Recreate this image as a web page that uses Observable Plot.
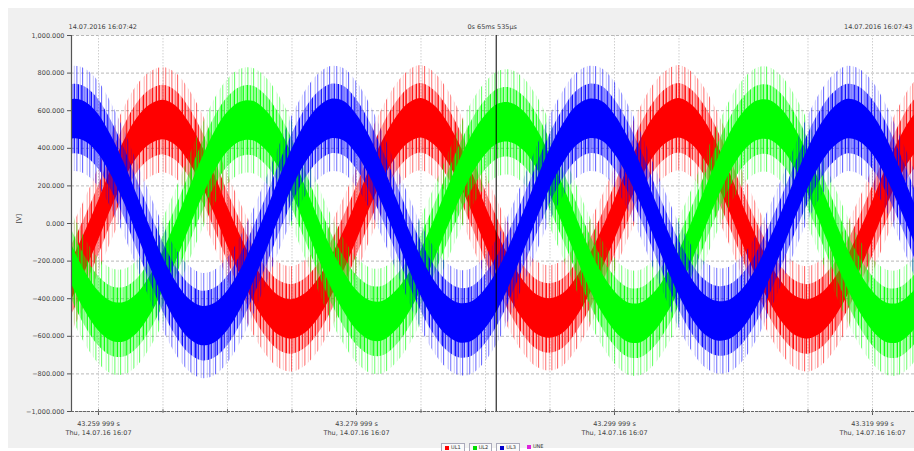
<!DOCTYPE html>
<html>
<head>
<meta charset="utf-8">
<script src="https://cdn.jsdelivr.net/npm/d3@7"></script>
<script src="https://cdn.jsdelivr.net/npm/@observablehq/plot@0.6"></script>
<style>
  body { margin: 0; background: #fff; font-family: "DejaVu Sans", sans-serif; }
  #wrap { position: relative; width: 914px; height: 451px; overflow: hidden; }
  #panel { position: absolute; left: 8px; top: 8px; width: 906px; height: 440px; background: #f0f0f0; }
  #chart { position: absolute; left: 0; top: 0; }
  #legend { position: absolute; top: 443px; left: 441px; display: flex; gap: 4px; font-size: 5px; color: #333; line-height: 7px; }
  #legend .item { display: flex; align-items: center; gap: 2px; padding: 0 3px; height: 7px; }
  #legend .box { border: 1px solid #aab; background: #fafafa; }
  #legend i { display: inline-block; width: 4px; height: 4px; }
</style>
</head>
<body>
<div id="wrap">
  <div id="panel"></div>
  <div id="chart"></div>
  <div id="legend"></div>
</div>
<script>
// ---- data ----
const sampleStart = 43257;   // ms (43.257 s), first sample
const sampleStepMs = 1;      // one reading per millisecond

const ul1Values = [-405,
  -290,-145,15,185,335,455,525,550,520,435,310,155,-15,-170,-310,-420,-490,-510,-480,-405,
  -290,-150,10,180,330,450,530,560,525,440,315,160,-10,-170,-305,-415,-485,-505,-480,-400,
  -285,-145,15,185,335,455,530,560,525,440,310,155,-15,-175,-310,-420,-490,-510,-480,-405,
  -290,-150,10,180,330,450,525];
const ul2Values = [-70,
  -230,-365,-465,-520,-525,-480,-385,-255,-100,70,235,380,485,540,545,495,400,265,100,-70,
  -230,-360,-460,-515,-520,-470,-380,-250,-95,70,230,370,470,530,535,490,395,260,100,-65,
  -230,-365,-465,-525,-530,-480,-385,-255,-100,70,235,380,485,545,550,500,400,265,100,-70,
  -230,-365,-465,-525,-530,-480,-385];
const ul3Values = [510,
  555,540,475,360,215,45,-125,-285,-415,-505,-545,-530,-465,-355,-210,-45,130,290,420,510,
  555,545,475,360,210,45,-125,-280,-405,-490,-530,-520,-455,-350,-205,-40,130,290,420,515,
  555,545,475,360,215,45,-120,-275,-400,-485,-520,-510,-450,-345,-200,-40,130,290,420,510,
  555,540,475,360,210,45,-125];

// noise spread around each trace (V): solid core, dense spikes, sparse spikes
const noiseCore = 105;
const noiseDense = 185;
const noiseSparse = 280;

const seriesNames = ["UL1", "UL2", "UL3"];
const seriesColors = ["#ff0000", "#00ff00", "#0000ff"];
const legendNames = ["UL1", "UL2", "UL3", "UNE"];
const legendColors = ["#ff0000", "#00dd00", "#0000cc", "#dd22dd"];

const yTicks = [-1000,-800,-600,-400,-200,0,200,400,600,800,1000];
const xMajorTicks = [43259.999, 43279.999, 43299.999, 43319.999];
const xMajorLabels = ["43.259 999 s", "43.279 999 s", "43.299 999 s", "43.319 999 s"];
const xMajorDates = ["Thu, 14.07.16 16:07", "Thu, 14.07.16 16:07", "Thu, 14.07.16 16:07", "Thu, 14.07.16 16:07"];
const xGridTicks = [43259.999,43264.999,43269.999,43274.999,43279.999,43284.999,43289.999,43294.999,43299.999,43304.999,43309.999,43314.999,43319.999];
const xDomain = [43257.906, 43323.256];
const cursorTime = 43290.83;
const cursorLabel = "0s 65ms 535µs";
const startLabel = "14.07.2016 16:07:42";
const endLabel = "14.07.2016 16:07:43";
const yUnit = "[V]";

// ---- build ----
const tables = [ul1Values, ul2Values, ul3Values].map(vals =>
  vals.map((v, i) => ({t: sampleStart + i * sampleStepMs, v})));

const ink = "#444";
const marks = [
  Plot.frame({fill: "#fff", stroke: null}),
  Plot.gridY(yTicks, {stroke: "#b8b8b8", strokeOpacity: 1, strokeDasharray: "3,2"}),
  Plot.gridX(xGridTicks, {stroke: "#cfcfcf", strokeOpacity: 1, strokeDasharray: "1.5,1.5"})
];
const ids = ["r", "g", "b"];
tables.forEach((rows, i) => {
  const c = seriesColors[i];
  marks.push(
    Plot.areaY(rows, {x: "t", y1: d => d.v - noiseSparse, y2: d => d.v + noiseSparse, fill: `url(#sparse-${ids[i]})`, curve: "catmull-rom", clip: true}),
    Plot.areaY(rows, {x: "t", y1: d => d.v - noiseDense, y2: d => d.v + noiseDense, fill: `url(#dense-${ids[i]})`, curve: "catmull-rom", clip: true}),
    Plot.areaY(rows, {x: "t", y1: d => d.v - noiseCore, y2: d => d.v + noiseCore, fill: c, curve: "catmull-rom", clip: true})
  );
});
marks.push(
  Plot.ruleX([cursorTime], {y1: -1000, y2: 1000, stroke: "#000", strokeWidth: 1}),
  Plot.ruleX([xDomain[0]], {y1: -1000, y2: 1000, stroke: "#555", strokeWidth: 1.2}),
  Plot.ruleY([-1000], {stroke: "#666", strokeWidth: 1.2, strokeDasharray: "3,1"}),
  Plot.axisY(yTicks, {tickFormat: d3.format(",.3f"), tickSize: 4, tickPadding: 3, stroke: "#555", fill: ink, label: null}),
  Plot.axisX(xMajorTicks, {tickSize: 4, tickFormat: () => "", stroke: "#555", label: null}),
  Plot.ruleX(xGridTicks, {y1: -1000, y2: -1000, insetTop: -2, insetBottom: -2, stroke: "#777", strokeWidth: 1}),
  Plot.text(xMajorTicks, {x: d => d, text: (d, i) => xMajorLabels[i] + "\n" + xMajorDates[i], frameAnchor: "bottom", lineAnchor: "top", dy: 8, lineHeight: 1.35, fill: ink}),
  Plot.text([startLabel], {text: d => d, frameAnchor: "top-left", textAnchor: "start", dx: -3, dy: -11, fill: ink}),
  Plot.text([cursorTime], {x: d => d, text: () => cursorLabel, frameAnchor: "top", dy: -11, dx: -4, fill: ink}),
  Plot.text([endLabel], {text: d => d, frameAnchor: "top-right", textAnchor: "end", dx: -2, dy: -11, fill: ink}),
  Plot.text([yUnit], {text: d => d, frameAnchor: "left", rotate: -90, dx: -53, fill: ink})
);

const chart = Plot.plot({
  width: 914,
  height: 440,
  marginLeft: 71,
  marginRight: 0,
  marginTop: 35,
  marginBottom: 29,
  x: {domain: xDomain, axis: null},
  y: {domain: [-1000, 1000], axis: null},
  style: {background: "transparent", fontSize: "6.5px", fontFamily: "DejaVu Sans, sans-serif", overflow: "hidden"},
  marks
});

// irregular stripe textures standing in for the measurement noise spikes
const denseStripes = [[0,1,0.95],[1.6,0.6,0.6],[2.7,1.2,0.9],[4.5,0.5,0.5],[5.6,1,0.85],[7.4,0.7,0.65],[8.6,1.3,0.95],[10.6,0.5,0.55],[11.7,0.9,0.8]];
const sparseStripes = [[0.5,0.8,0.75],[3.9,0.5,0.45],[6.2,0.9,0.7],[10.8,0.6,0.5],[13.4,0.8,0.7],[16.9,0.5,0.45]];
const defs = d3.select(chart).insert("defs", ":first-child");
ids.forEach((id, i) => {
  const c = seriesColors[i];
  const dense = defs.append("pattern").attr("id", `dense-${id}`).attr("patternUnits", "userSpaceOnUse").attr("width", 13).attr("height", 4);
  denseStripes.forEach(([x, w, o]) =>
    dense.append("rect").attr("x", x).attr("y", 0).attr("width", w).attr("height", 4).attr("fill", c).attr("fill-opacity", o));
  const sparse = defs.append("pattern").attr("id", `sparse-${id}`).attr("patternUnits", "userSpaceOnUse").attr("width", 19).attr("height", 4);
  sparseStripes.forEach(([x, w, o]) =>
    sparse.append("rect").attr("x", x).attr("y", 0).attr("width", w).attr("height", 4).attr("fill", c).attr("fill-opacity", o));
});

document.getElementById("chart").appendChild(chart);

const legend = d3.select("#legend");
legendNames.forEach((n, i) => {
  const it = legend.append("span").attr("class", i < 3 ? "item box" : "item");
  it.append("i").style("background", legendColors[i]);
  it.append("span").text(n);
});
</script>
</body>
</html>
